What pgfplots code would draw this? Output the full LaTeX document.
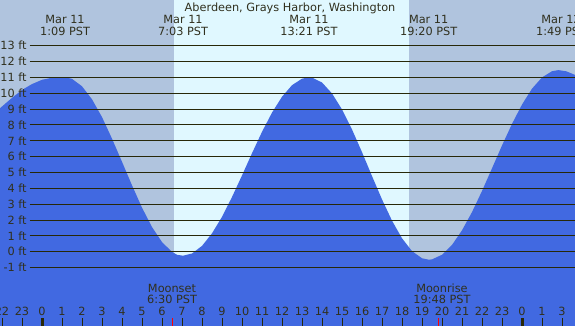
\documentclass[border=0pt]{standalone}
\usepackage{pgfplots}
\pgfplotsset{compat=1.18}
\usepackage{fontspec}
\setmainfont{DejaVu Sans}
\definecolor{nightc}{RGB}{176,196,222}
\definecolor{dayc}{RGB}{224,248,255}
\definecolor{tidec}{RGB}{65,105,225}
\definecolor{linec}{RGB}{40,40,8}
\definecolor{txtc}{RGB}{48,48,30}
\tikzset{lbl/.style={font=\fontsize{11.3}{13}\selectfont, text=txtc, inner sep=0pt}}
\begin{document}
\begin{tikzpicture}
\begin{axis}[
  width=575pt, height=326pt, scale only axis,
  xmin=-2.1, xmax=26.65, ymin=-4.68, ymax=15.87,
  axis line style={draw=none}, xtick=\empty, ytick=\empty,
  axis background/.style={fill=nightc},
]
% daylight band
\addplot[fill=dayc, draw=none] coordinates {(6.6,-4.7) (6.6,15.9) (18.35,15.9) (18.35,-4.7)} --cycle;
% tide
\addplot[fill=tidec, draw=none] coordinates {
(-2.1,-4.7)
(-2.1,9.05) (-1.5,9.7) (-1,10.2) (-0.5,10.57) (0,10.84) (0.5,10.97) (1.15,11.0)
(1.5,10.90) (2,10.43) (2.5,9.61) (3,8.49) (3.5,7.13) (4,5.67) (4.5,4.19) (5,2.78)
(5.5,1.56) (6,0.61) (6.5,-0.01) (6.75,-0.19) (7.05,-0.25)
(7.5,-0.11) (8,0.37) (8.5,1.16) (9,2.20) (9.5,3.45) (10,4.81) (10.5,6.21) (11,7.56)
(11.5,8.77) (12,9.77) (12.5,10.50) (13,10.91) (13.35,11.0)
(13.5,10.98) (14,10.67) (14.5,9.98) (15,8.97) (15.5,7.71) (16,6.28) (16.5,4.77)
(17,3.30) (17.5,1.96) (18,0.85) (18.5,0.04) (19,-0.41) (19.333,-0.5)
(19.5,-0.48) (20,-0.19) (20.5,0.43) (21,1.35) (21.5,2.50) (22,3.83) (22.5,5.26)
(23,6.70) (23.5,8.06) (24,9.28) (24.5,10.28) (25,10.99) (25.5,11.38) (25.817,11.45)
(26.2,11.38) (26.65,11.15)
(26.65,-4.7)
} --cycle;
% foot lines and labels
\foreach \y in {-1,0,...,13}{
  \edef\tmp{\noexpand\draw[linec, line width=0.9pt] (axis cs:-0.62,\y) -- (axis cs:26.7,\y);
  \noexpand\node[lbl, anchor=east] at (axis cs:-0.76,\y) {\y\ ft};}\tmp
}
% hour ticks and labels
\foreach \x/\l in {-2/22,-1/23,0/0,1/1,2/2,3/3,4/4,5/5,6/6,7/7,8/8,9/9,10/10,11/11,12/12,13/13,14/14,15/15,16/16,17/17,18/18,19/19,20/20,21/21,22/22,23/23,24/0,25/1,26/3}{
  \edef\tmp{\noexpand\draw[linec, line width=0.9pt] (axis cs:\x,-4.7) -- (axis cs:\x,-4.18);
  \noexpand\node[lbl] at (axis cs:\x,-3.74) {\l};}\tmp
}
\draw[linec, line width=3pt] (axis cs:0,-4.7) -- (axis cs:0,-4.18);
\draw[linec, line width=3pt] (axis cs:24,-4.7) -- (axis cs:24,-4.18);
\draw[red, line width=1pt] (axis cs:6.5,-4.7) -- (axis cs:6.5,-4.18);
\draw[red, line width=1pt] (axis cs:19.8,-4.7) -- (axis cs:19.8,-4.18);
% moon
\node[lbl] at (axis cs:6.5,-2.29) {Moonset};
\node[lbl] at (axis cs:6.5,-2.98) {6:30 PST};
\node[lbl] at (axis cs:20.0,-2.29) {Moonrise};
\node[lbl] at (axis cs:20.0,-2.98) {19:48 PST};
% title and extremes
\node[lbl] at (axis cs:12.4,15.37) {Aberdeen, Grays Harbor, Washington};
\node[lbl] at (axis cs:1.15,14.67) {Mar 11};
\node[lbl] at (axis cs:1.15,13.91) {1:09 PST};
\node[lbl] at (axis cs:7.05,14.67) {Mar 11};
\node[lbl] at (axis cs:7.05,13.91) {7:03 PST};
\node[lbl] at (axis cs:13.35,14.67) {Mar 11};
\node[lbl] at (axis cs:13.35,13.91) {13:21 PST};
\node[lbl] at (axis cs:19.333,14.67) {Mar 11};
\node[lbl] at (axis cs:19.333,13.91) {19:20 PST};
\node[lbl] at (axis cs:25.95,14.67) {Mar 12};
\node[lbl] at (axis cs:25.95,13.91) {1:49 PST};
\end{axis}
\pgfresetboundingbox
\path (current axis.south west) rectangle (current axis.north east);
\end{tikzpicture}
\end{document}
